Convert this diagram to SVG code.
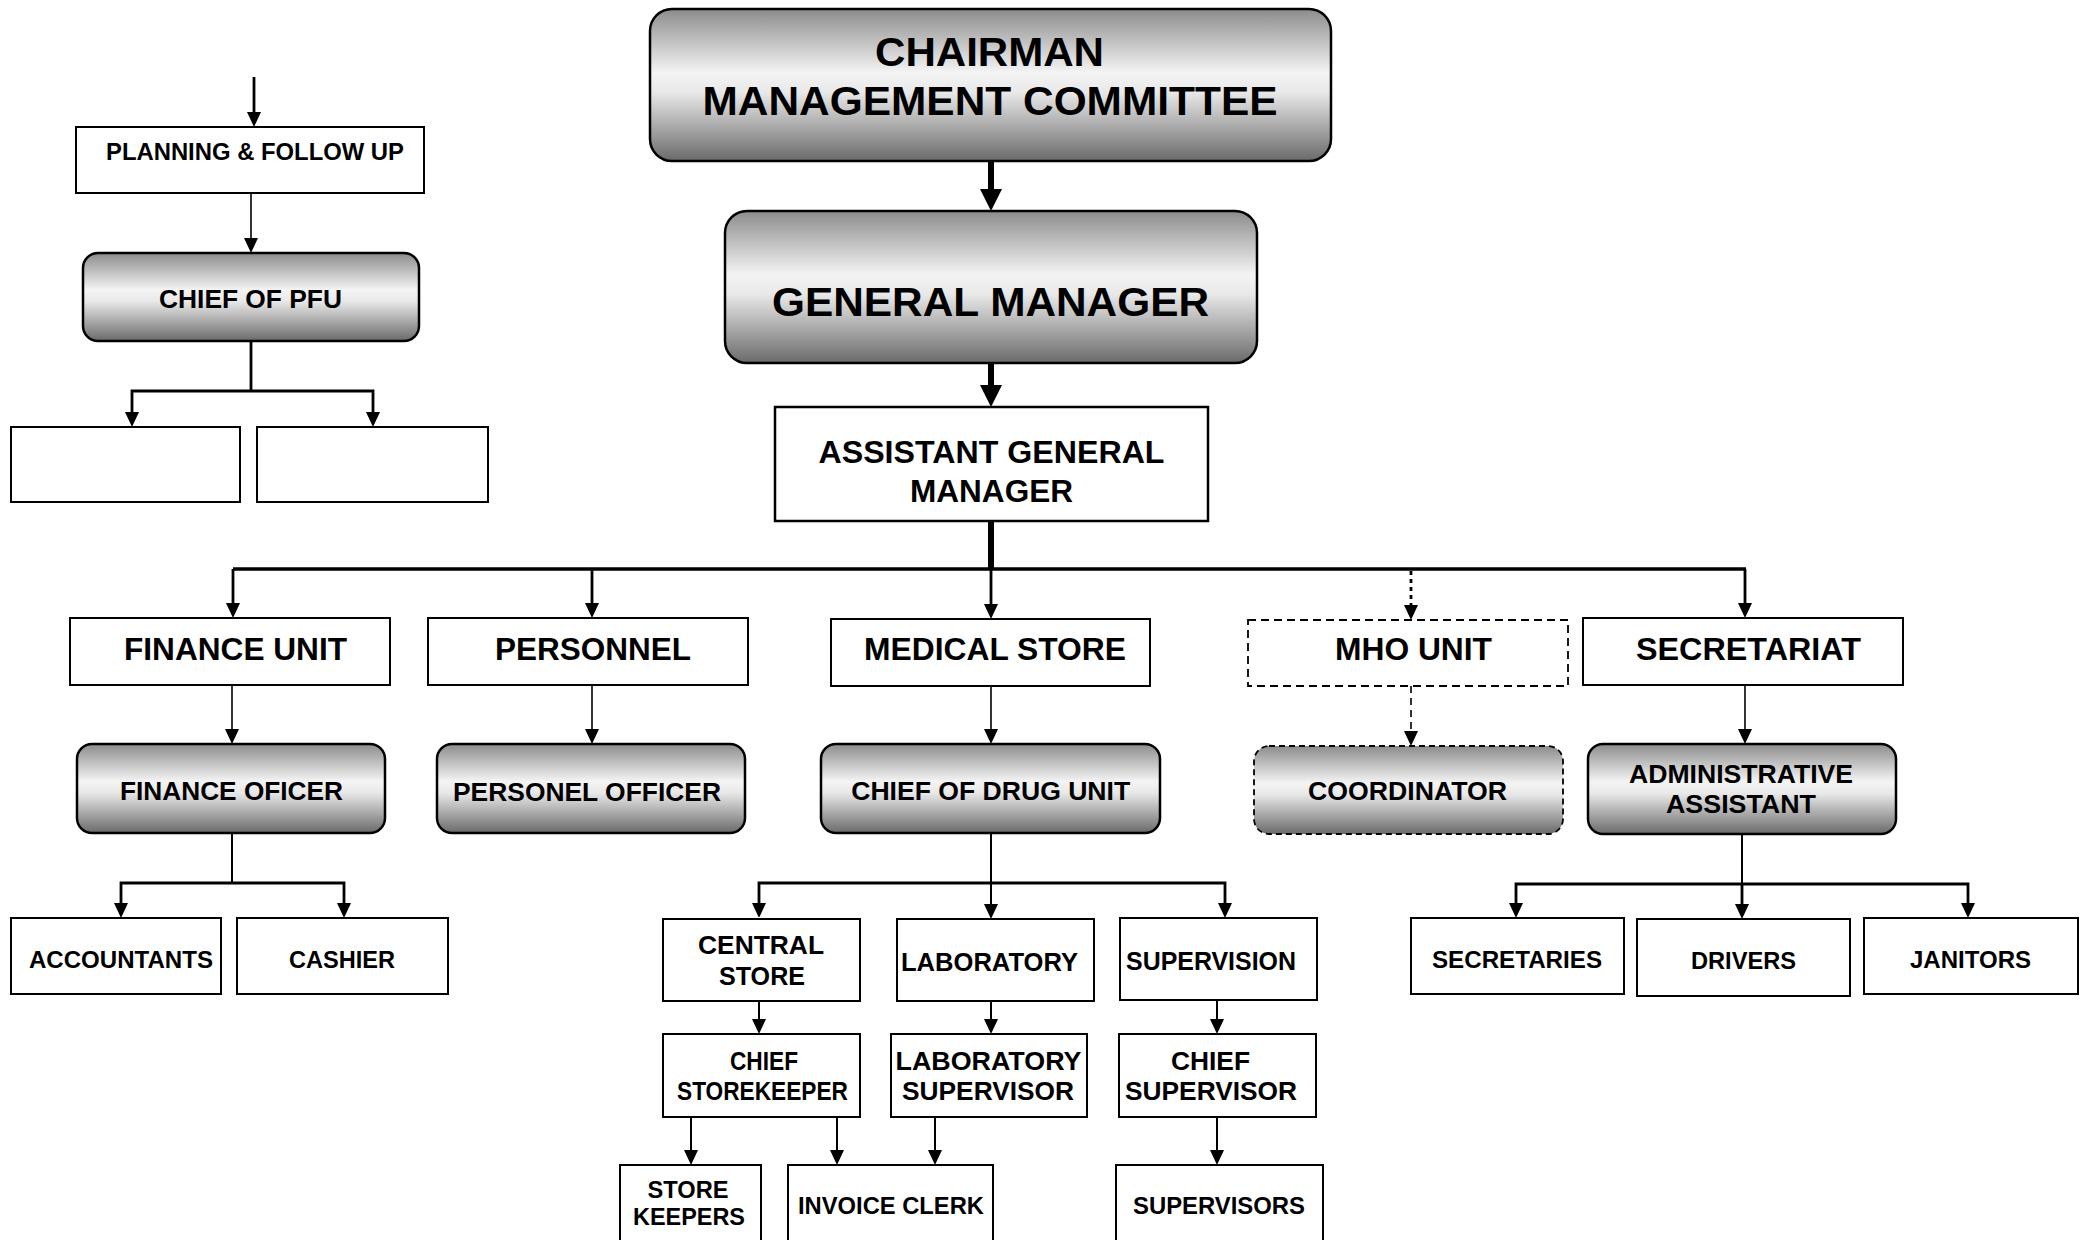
<svg xmlns="http://www.w3.org/2000/svg" width="2089" height="1240" viewBox="0 0 2089 1240">
  <defs>
    <linearGradient id="shade" x1="0" y1="0" x2="0" y2="1">
      <stop offset="0" stop-color="#8c8c8c"/>
      <stop offset="0.42" stop-color="#f4f4f4"/>
      <stop offset="0.55" stop-color="#e8e8e8"/>
      <stop offset="1" stop-color="#6a6a6a"/>
    </linearGradient>
    <marker id="arr" markerUnits="userSpaceOnUse" markerWidth="14" markerHeight="15" refX="11" refY="7" orient="auto-start-reverse">
      <path d="M0,0 L15,7 L0,14 z" fill="#000"/>
    </marker>
    <marker id="arrBig" markerUnits="userSpaceOnUse" markerWidth="22" markerHeight="22" refX="16" refY="11" orient="auto">
      <path d="M0,0 L22,11 L0,22 z" fill="#000"/>
    </marker>
    <style>
      .box { fill: #fff; stroke: #000; stroke-width: 2; }
      .box2 { fill: #fff; stroke: #000; stroke-width: 2.5; }
      .grad { fill: url(#shade); stroke: #000; stroke-width: 2.5; }
      .dash { fill: #fff; stroke: #000; stroke-width: 1.8; stroke-dasharray: 8 5; }
      .gdash { fill: url(#shade); stroke: #000; stroke-width: 1.8; stroke-dasharray: 6 4; }
      text { font-family: "Liberation Sans", Arial, sans-serif; font-weight: bold; fill: #000; text-anchor: middle; }
      .t41 { font-size: 41px; }
      .t31 { font-size: 31px; }
      .t26 { font-size: 26px; }
      .t24 { font-size: 24px; }
      .ln { fill: none; stroke: #000; }
      .thick { stroke-width: 6; }
      .bus { stroke-width: 3.5; }
      .mid { stroke-width: 2.8; }
      .thin { stroke-width: 1.6; }
    </style>
  </defs>

  <!-- connectors -->
  <g id="connectors">
    <!-- planning & follow up branch -->
    <line class="ln mid" x1="254" y1="77" x2="254" y2="123" marker-end="url(#arr)"/>
    <line class="ln thin" x1="251" y1="193" x2="251" y2="249" marker-end="url(#arr)"/>
    <polyline class="ln mid" points="251,341 251,391"/>
    <polyline class="ln mid" points="132,423 132,391 373,391 373,423" marker-start="url(#arr)" marker-end="url(#arr)"/>

    <!-- top chain -->
    <line class="ln thick" x1="991" y1="161" x2="991" y2="205" marker-end="url(#arrBig)"/>
    <line class="ln thick" x1="991" y1="358" x2="991" y2="401" marker-end="url(#arrBig)"/>
    <line class="ln thick" x1="991" y1="521" x2="991" y2="569"/>

    <!-- main bus and unit drops -->
    <line class="ln bus" x1="233" y1="569" x2="1746" y2="569"/>
    <line class="ln mid" x1="233" y1="569" x2="233" y2="614" marker-end="url(#arr)"/>
    <line class="ln mid" x1="592" y1="569" x2="592" y2="614" marker-end="url(#arr)"/>
    <line class="ln mid" x1="991" y1="569" x2="991" y2="615" marker-end="url(#arr)"/>
    <line class="ln mid" x1="1411" y1="571" x2="1411" y2="616" stroke-dasharray="4 4" marker-end="url(#arr)"/>
    <line class="ln mid" x1="1745" y1="569" x2="1745" y2="614" marker-end="url(#arr)"/>

    <!-- unit to officer -->
    <line class="ln thin" x1="232" y1="685" x2="232" y2="740" marker-end="url(#arr)"/>
    <line class="ln thin" x1="592" y1="685" x2="592" y2="740" marker-end="url(#arr)"/>
    <line class="ln thin" x1="991" y1="686" x2="991" y2="740" marker-end="url(#arr)"/>
    <line class="ln thin" x1="1411" y1="686" x2="1411" y2="742" stroke-dasharray="7 5" marker-end="url(#arr)"/>
    <line class="ln thin" x1="1745" y1="685" x2="1745" y2="740" marker-end="url(#arr)"/>

    <!-- finance officer staff -->
    <line class="ln" stroke-width="2" x1="232" y1="833" x2="232" y2="883"/>
    <polyline class="ln mid" points="121,914 121,883 344,883 344,914" marker-start="url(#arr)" marker-end="url(#arr)"/>

    <!-- drug unit sections -->
    <line class="ln" stroke-width="2" x1="991" y1="833" x2="991" y2="883"/>
    <polyline class="ln mid" points="759,914 759,883 1225,883 1225,914" marker-start="url(#arr)" marker-end="url(#arr)"/>
    <line class="ln" stroke-width="2" x1="991" y1="883" x2="991" y2="915" marker-end="url(#arr)"/>
    <line class="ln" stroke-width="2" x1="759" y1="1001" x2="759" y2="1030" marker-end="url(#arr)"/>
    <line class="ln" stroke-width="2" x1="991" y1="1001" x2="991" y2="1030" marker-end="url(#arr)"/>
    <line class="ln" stroke-width="2" x1="1217" y1="1000" x2="1217" y2="1030" marker-end="url(#arr)"/>
    <line class="ln" stroke-width="2" x1="691" y1="1117" x2="691" y2="1161" marker-end="url(#arr)"/>
    <line class="ln" stroke-width="2" x1="837" y1="1117" x2="837" y2="1161" marker-end="url(#arr)"/>
    <line class="ln" stroke-width="2" x1="935" y1="1117" x2="935" y2="1161" marker-end="url(#arr)"/>
    <line class="ln" stroke-width="2" x1="1217" y1="1117" x2="1217" y2="1161" marker-end="url(#arr)"/>

    <!-- secretariat staff -->
    <line class="ln" stroke-width="2" x1="1742" y1="834" x2="1742" y2="884"/>
    <polyline class="ln mid" points="1516,914 1516,884 1968,884 1968,914" marker-start="url(#arr)" marker-end="url(#arr)"/>
    <line class="ln mid" x1="1742" y1="884" x2="1742" y2="915" marker-end="url(#arr)"/>
  </g>

  <!-- planning & follow up -->
  <g id="planning">
    <rect class="box" x="76" y="127" width="348" height="66"/>
    <text class="t24" x="255" y="160" textLength="298" lengthAdjust="spacingAndGlyphs">PLANNING &amp; FOLLOW UP</text>
  </g>
  <g id="chief-pfu">
    <rect class="grad" x="83" y="253" width="336" height="88" rx="15"/>
    <text class="t26" x="250.5" y="308" textLength="183" lengthAdjust="spacingAndGlyphs">CHIEF OF PFU</text>
  </g>
  <g id="pfu-left"><rect class="box" x="11" y="427" width="229" height="75"/></g>
  <g id="pfu-right"><rect class="box" x="257" y="427" width="231" height="75"/></g>

  <!-- top management -->
  <g id="chairman">
    <rect class="grad" x="650" y="9" width="681" height="152" rx="22"/>
    <text class="t41" x="989.5" y="66" textLength="229" lengthAdjust="spacingAndGlyphs">CHAIRMAN</text>
    <text class="t41" x="990" y="115" textLength="575" lengthAdjust="spacingAndGlyphs">MANAGEMENT COMMITTEE</text>
  </g>
  <g id="general-manager">
    <rect class="grad" x="725" y="211" width="532" height="152" rx="22"/>
    <text class="t41" x="990.5" y="316" textLength="437" lengthAdjust="spacingAndGlyphs">GENERAL MANAGER</text>
  </g>
  <g id="assistant-gm">
    <rect class="box2" x="775" y="407" width="433" height="114"/>
    <text class="t31" x="991.5" y="463" textLength="346" lengthAdjust="spacingAndGlyphs">ASSISTANT GENERAL</text>
    <text class="t31" x="991.5" y="502" textLength="163" lengthAdjust="spacingAndGlyphs">MANAGER</text>
  </g>

  <!-- units -->
  <g id="finance-unit">
    <rect class="box" x="70" y="618" width="320" height="67"/>
    <text class="t31" x="235.5" y="660" textLength="223" lengthAdjust="spacingAndGlyphs">FINANCE UNIT</text>
  </g>
  <g id="personnel">
    <rect class="box" x="428" y="618" width="320" height="67"/>
    <text class="t31" x="593" y="660" textLength="196" lengthAdjust="spacingAndGlyphs">PERSONNEL</text>
  </g>
  <g id="medical-store">
    <rect class="box" x="831" y="619" width="319" height="67"/>
    <text class="t31" x="995" y="660" textLength="262" lengthAdjust="spacingAndGlyphs">MEDICAL STORE</text>
  </g>
  <g id="mho-unit">
    <rect class="dash" x="1248" y="620" width="320" height="66"/>
    <text class="t31" x="1413.5" y="660" textLength="157" lengthAdjust="spacingAndGlyphs">MHO UNIT</text>
  </g>
  <g id="secretariat">
    <rect class="box" x="1583" y="618" width="320" height="67"/>
    <text class="t31" x="1748.5" y="660" textLength="225" lengthAdjust="spacingAndGlyphs">SECRETARIAT</text>
  </g>

  <!-- officers -->
  <g id="finance-officer">
    <rect class="grad" x="77" y="744" width="308" height="89" rx="15"/>
    <text class="t26" x="231.5" y="800" textLength="223" lengthAdjust="spacingAndGlyphs">FINANCE OFICER</text>
  </g>
  <g id="personnel-officer">
    <rect class="grad" x="437" y="744" width="308" height="89" rx="15"/>
    <text class="t26" x="587" y="801" textLength="268" lengthAdjust="spacingAndGlyphs">PERSONEL OFFICER</text>
  </g>
  <g id="chief-drug-unit">
    <rect class="grad" x="821" y="744" width="339" height="89" rx="15"/>
    <text class="t26" x="990.7" y="800" textLength="279" lengthAdjust="spacingAndGlyphs">CHIEF OF DRUG UNIT</text>
  </g>
  <g id="coordinator">
    <rect class="gdash" x="1254" y="746" width="309" height="88" rx="15"/>
    <text class="t26" x="1407.5" y="800" textLength="199" lengthAdjust="spacingAndGlyphs">COORDINATOR</text>
  </g>
  <g id="admin-assistant">
    <rect class="grad" x="1588" y="744" width="308" height="90" rx="15"/>
    <text class="t26" x="1741" y="783" textLength="224" lengthAdjust="spacingAndGlyphs">ADMINISTRATIVE</text>
    <text class="t26" x="1741" y="813" textLength="150" lengthAdjust="spacingAndGlyphs">ASSISTANT</text>
  </g>

  <!-- finance staff -->
  <g id="accountants">
    <rect class="box" x="11" y="918" width="210" height="76"/>
    <text class="t24" x="121" y="968" textLength="184" lengthAdjust="spacingAndGlyphs">ACCOUNTANTS</text>
  </g>
  <g id="cashier">
    <rect class="box" x="237" y="918" width="211" height="76"/>
    <text class="t24" x="342" y="968" textLength="106" lengthAdjust="spacingAndGlyphs">CASHIER</text>
  </g>

  <!-- drug unit sections -->
  <g id="central-store">
    <rect class="box" x="663" y="919" width="197" height="82"/>
    <text class="t26" x="761" y="954" textLength="126" lengthAdjust="spacingAndGlyphs">CENTRAL</text>
    <text class="t26" x="762" y="985" textLength="86" lengthAdjust="spacingAndGlyphs">STORE</text>
  </g>
  <g id="laboratory">
    <rect class="box" x="897" y="919" width="197" height="82"/>
    <text class="t26" x="989.5" y="971" textLength="177" lengthAdjust="spacingAndGlyphs">LABORATORY</text>
  </g>
  <g id="supervision">
    <rect class="box" x="1120" y="918" width="197" height="82"/>
    <text class="t26" x="1211" y="970" textLength="170" lengthAdjust="spacingAndGlyphs">SUPERVISION</text>
  </g>
  <g id="chief-storekeeper">
    <rect class="box" x="663" y="1034" width="197" height="83"/>
    <text class="t26" x="764" y="1070" textLength="68" lengthAdjust="spacingAndGlyphs">CHIEF</text>
    <text class="t26" x="762.5" y="1100" textLength="171" lengthAdjust="spacingAndGlyphs">STOREKEEPER</text>
  </g>
  <g id="lab-supervisor">
    <rect class="box" x="891" y="1034" width="196" height="83"/>
    <text class="t26" x="988.5" y="1070" textLength="186" lengthAdjust="spacingAndGlyphs">LABORATORY</text>
    <text class="t26" x="988" y="1100" textLength="172" lengthAdjust="spacingAndGlyphs">SUPERVISOR</text>
  </g>
  <g id="chief-supervisor">
    <rect class="box" x="1119" y="1034" width="197" height="83"/>
    <text class="t26" x="1210.5" y="1070" textLength="79" lengthAdjust="spacingAndGlyphs">CHIEF</text>
    <text class="t26" x="1211" y="1100" textLength="172" lengthAdjust="spacingAndGlyphs">SUPERVISOR</text>
  </g>
  <g id="store-keepers">
    <rect class="box" x="620" y="1165" width="141" height="85"/>
    <text class="t24" x="688" y="1198" textLength="81" lengthAdjust="spacingAndGlyphs">STORE</text>
    <text class="t24" x="689" y="1225" textLength="112" lengthAdjust="spacingAndGlyphs">KEEPERS</text>
  </g>
  <g id="invoice-clerk">
    <rect class="box" x="788" y="1165" width="205" height="85"/>
    <text class="t24" x="891" y="1214" textLength="186" lengthAdjust="spacingAndGlyphs">INVOICE CLERK</text>
  </g>
  <g id="supervisors">
    <rect class="box" x="1116" y="1165" width="207" height="85"/>
    <text class="t24" x="1219" y="1214" textLength="172" lengthAdjust="spacingAndGlyphs">SUPERVISORS</text>
  </g>

  <!-- secretariat staff -->
  <g id="secretaries">
    <rect class="box" x="1411" y="918" width="213" height="76"/>
    <text class="t24" x="1517" y="968" textLength="170" lengthAdjust="spacingAndGlyphs">SECRETARIES</text>
  </g>
  <g id="drivers">
    <rect class="box" x="1637" y="919" width="213" height="77"/>
    <text class="t24" x="1743.5" y="969" textLength="105" lengthAdjust="spacingAndGlyphs">DRIVERS</text>
  </g>
  <g id="janitors">
    <rect class="box" x="1864" y="918" width="214" height="76"/>
    <text class="t24" x="1970.5" y="968" textLength="121" lengthAdjust="spacingAndGlyphs">JANITORS</text>
  </g>
</svg>
